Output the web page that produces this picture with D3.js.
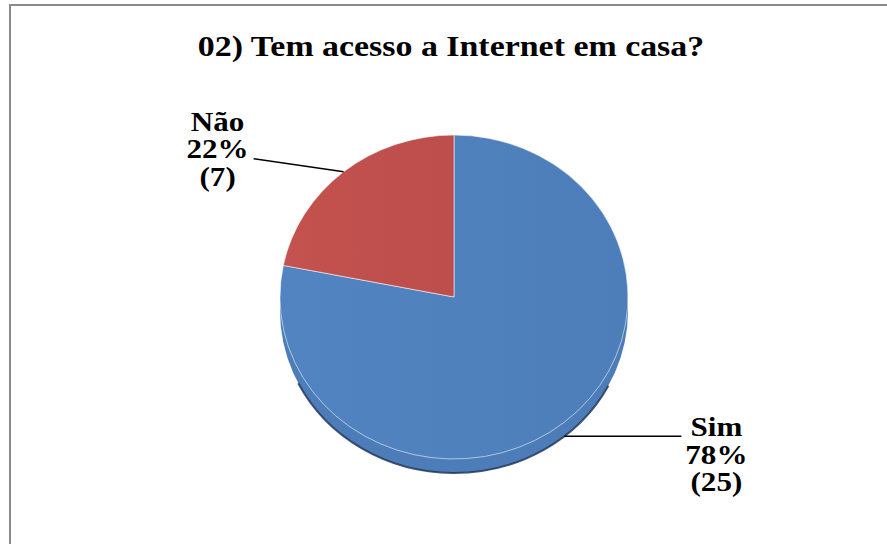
<!DOCTYPE html>
<html>
<head>
<meta charset="utf-8">
<script src="https://cdn.jsdelivr.net/npm/d3@7"></script>
<style>
  html, body { margin: 0; padding: 0; background: #fff; }
  svg { display: block; }
</style>
</head>
<body>
<div id="chart"></div>
<script>
// data
const categories = ["Sim", "Não"];
const counts = [25, 7];
const percents = ["78%", "22%"];
const colors = ["#4F81BD", "#C0504D"];
const title = "02) Tem acesso a Internet em casa?";

const W = 887, H = 544;
const cx = 454, cy = 297, rx = 174, ry = 162, depth = 14;
const stretch = 1.13; // text in the original is a bit wide

const svg = d3.select("#chart").append("svg")
    .attr("width", W)
    .attr("height", H)
    .style("background", "#fff");

// chart frame (runs off the right and bottom)
svg.append("rect")
    .attr("x", 10).attr("y", 5)
    .attr("width", W + 20).attr("height", H + 20)
    .attr("fill", "#fff")
    .attr("stroke", "#8a8a8a")
    .attr("stroke-width", 2);

function addText(parent, x, y, size, t) {
  return parent.append("text")
      .attr("transform", `translate(${x},${y}) scale(${stretch},1)`)
      .attr("text-anchor", "middle")
      .attr("font-family", "Liberation Serif")
      .attr("font-weight", "bold")
      .attr("font-size", size)
      .attr("fill", "#000")
      .text(t);
}

addText(svg, 451, 56, 30, title);

const data = categories.map((c, i) => ({ name: c, value: counts[i], pct: percents[i], color: colors[i] }));

const pie = d3.pie().sort(null).value(d => d.value).startAngle(0).endAngle(2 * Math.PI);
const arcs = pie(data);
const arc = d3.arc().innerRadius(0).outerRadius(1);

// side of the tilted pie
svg.append("path")
    .attr("d", `M${cx - rx},${cy} L${cx - rx},${cy + depth} A${rx},${ry} 0 0 0 ${cx + rx},${cy + depth} L${cx + rx},${cy} Z`)
    .attr("fill", "#4D7DB8");

// dark rim at the bottom
const rimA = 2.05, rimB = 4.25;
const rimPt = a => [cx + rx * Math.sin(a), cy + depth - ry * Math.cos(a)];
svg.append("path")
    .attr("d", `M${rimPt(rimA)} A${rx},${ry} 0 0 1 ${rimPt(rimB)}`)
    .attr("fill", "none")
    .attr("stroke", "#1c2f52")
    .attr("stroke-width", 2)
    .attr("opacity", 0.8);

// top face
const defs = svg.append("defs");
data.forEach((d, i) => {
  const g = defs.append("linearGradient").attr("id", "g" + i)
      .attr("x1", "0").attr("x2", "1").attr("y1", "0").attr("y2", "0");
  g.append("stop").attr("offset", "0").attr("stop-color", d3.color(d.color).brighter(0.06));
  g.append("stop").attr("offset", "1").attr("stop-color", d3.color(d.color).darker(0.06));
});

svg.append("g")
    .attr("transform", `translate(${cx},${cy}) scale(${rx},${ry})`)
    .selectAll("path")
    .data(arcs)
    .join("path")
    .attr("d", arc)
    .attr("fill", (d, i) => `url(#g${i})`)
    .attr("stroke", "#ffffff")
    .attr("stroke-opacity", 0.55)
    .attr("stroke-width", 1)
    .attr("vector-effect", "non-scaling-stroke");

// labels with leader lines
const edge = (a, dy) => [cx + rx * Math.sin(a), cy - ry * Math.cos(a) + dy];
const labels = svg.append("g");

arcs.forEach(d => {
  const mid = (d.startAngle + d.endAngle) / 2;
  const lower = Math.cos(mid) < 0;
  const p0 = edge(mid, lower ? depth : 0);
  const right = Math.sin(mid) > 0;
  const p1 = right ? [p0[0] + 117, p0[1]] : [p0[0] - 90, p0[1] - 13];
  labels.append("line")
      .attr("x1", p0[0]).attr("y1", p0[1])
      .attr("x2", p1[0]).attr("y2", p1[1])
      .attr("stroke", "#000").attr("stroke-width", 1.5);
  const tx = right ? p1[0] + 35 : p1[0] - 36;
  const lines = [d.data.name, d.data.pct, `(${d.data.value})`];
  const base = right ? p1[1] : p1[1] - 28;
  lines.forEach((t, k) => addText(labels, tx, base + k * 27.5, 27.5, t));
});
</script>
</body>
</html>
